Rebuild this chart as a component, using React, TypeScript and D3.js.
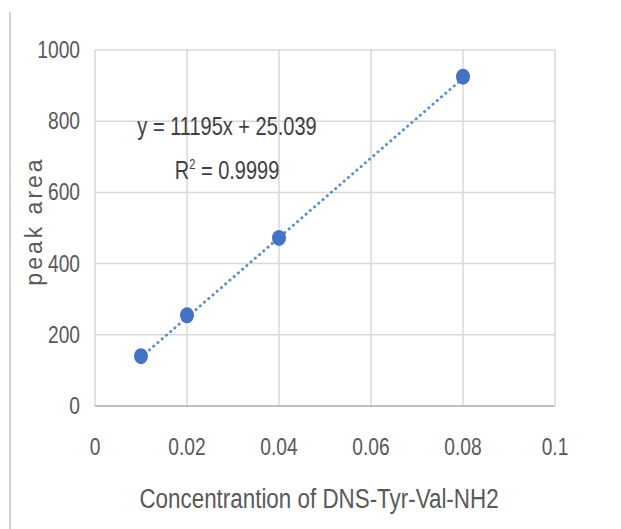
import { useRef, useEffect } from 'react'
import * as d3 from 'd3'

const concentrations = [0.01, 0.02, 0.04, 0.08]
const peakAreas = [140, 255, 472, 925]
const xTicks = [0, 0.02, 0.04, 0.06, 0.08, 0.1]
const xTickLabels = ['0', '0.02', '0.04', '0.06', '0.08', '0.1']
const yTicks = [0, 200, 400, 600, 800, 1000]
const slope = 11195
const intercept = 25.039

const W = 621
const H = 529
const FONT = "'Liberation Sans', Arial, sans-serif"
const SQUEEZE = 0.8

const App = () => {
  const svgRef = useRef<SVGSVGElement>(null)

  useEffect(() => {
    const svg = d3.select(svgRef.current)
    svg.selectAll('*').remove()

    const x = d3.scaleLinear().domain([0, 0.1]).range([95, 555])
    const y = d3.scaleLinear().domain([0, 1000]).range([406, 50])

    // narrow text like the original (squeezed horizontally)
    const label = (px: number, py: number, size: number, anchor: string, color: string) =>
      svg.append('text')
        .attr('transform', `translate(${px},${py}) scale(${SQUEEZE},1)`)
        .attr('text-anchor', anchor)
        .style('font-family', FONT)
        .style('font-size', size + 'px')
        .style('fill', color)

    svg.append('rect').attr('width', W).attr('height', H).attr('fill', '#fff')

    // frame line on the left
    svg.append('line')
      .attr('x1', 10).attr('x2', 10).attr('y1', 12).attr('y2', H)
      .attr('stroke', '#d4d4d4').attr('stroke-width', 2)

    const grid = svg.append('g')
    grid.selectAll('line.h')
      .data(yTicks.slice(1))
      .join('line')
      .attr('class', 'h')
      .attr('x1', x(0)).attr('x2', x(0.1))
      .attr('y1', (d) => y(d)).attr('y2', (d) => y(d))
      .attr('stroke', '#d9d9d9').attr('stroke-width', 1.5)
    grid.selectAll('line.v')
      .data(xTicks)
      .join('line')
      .attr('class', 'v')
      .attr('x1', (d) => x(d)).attr('x2', (d) => x(d))
      .attr('y1', y(0)).attr('y2', y(1000))
      .attr('stroke', '#d9d9d9').attr('stroke-width', 1.5)

    // x axis baseline
    svg.append('line')
      .attr('x1', x(0)).attr('x2', x(0.1)).attr('y1', y(0)).attr('y2', y(0))
      .attr('stroke', '#bfbfbf').attr('stroke-width', 2)

    yTicks.forEach((d) => {
      label(80, y(d) + 8, 24, 'end', '#595959').text(d)
    })

    xTicks.forEach((d, i) => {
      label(x(d), 455, 24, 'middle', '#595959').text(xTickLabels[i])
    })

    label(319, 508, 28, 'middle', '#595959').text('Concentrantion of DNS-Tyr-Val-NH2')

    svg.append('text')
      .attr('transform', 'translate(42,221) rotate(-90)')
      .attr('text-anchor', 'middle')
      .style('font-family', FONT)
      .style('font-size', '23px')
      .style('letter-spacing', '3px')
      .style('fill', '#595959')
      .text('peak area')

    // trendline
    const xMin = d3.min(concentrations) as number
    const xMax = d3.max(concentrations) as number
    svg.append('line')
      .attr('x1', x(xMin)).attr('y1', y(slope * xMin + intercept))
      .attr('x2', x(xMax)).attr('y2', y(slope * xMax + intercept))
      .attr('stroke', '#5b8fc7')
      .attr('stroke-width', 3)
      .attr('stroke-linecap', 'round')
      .attr('stroke-dasharray', '0.1 5.5')

    svg.append('g')
      .selectAll('ellipse')
      .data(concentrations)
      .join('ellipse')
      .attr('cx', (d) => x(d))
      .attr('cy', (d, i) => y(peakAreas[i]))
      .attr('rx', 7)
      .attr('ry', 8)
      .attr('fill', '#4472c4')

    label(227, 135, 25, 'middle', '#404040').text('y = 11195x + 25.039')

    const r2 = label(227, 179, 25, 'middle', '#404040')
    r2.append('tspan').text('R')
    r2.append('tspan').attr('dy', -10).style('font-size', '14px').text('2')
    r2.append('tspan').attr('dy', 10).text(' = 0.9999')
  }, [])

  return (
    <svg
      ref={svgRef}
      width={W}
      height={H}
      style={{ position: 'absolute', left: 0, top: 0, display: 'block' }}
    ></svg>
  )
}

export default App
